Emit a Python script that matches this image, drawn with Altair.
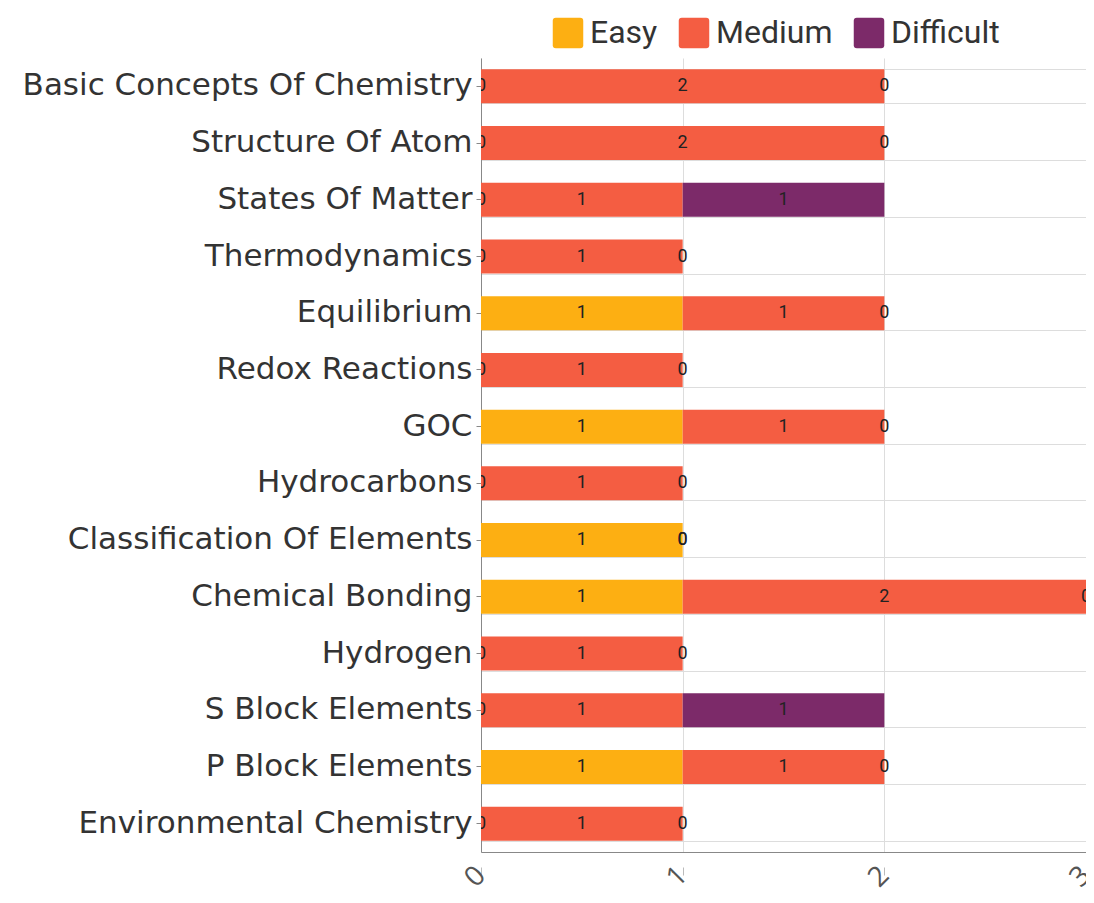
import altair as alt
import pandas as pd

topics = [
    "Basic Concepts Of Chemistry", "Structure Of Atom", "States Of Matter",
    "Thermodynamics", "Equilibrium", "Redox Reactions", "GOC", "Hydrocarbons",
    "Classification Of Elements", "Chemical Bonding", "Hydrogen",
    "S Block Elements", "P Block Elements", "Environmental Chemistry",
]
levels = ["Easy", "Medium", "Difficult"]
easy = [0, 0, 0, 0, 1, 0, 1, 0, 1, 1, 0, 0, 1, 0]
medium = [2, 2, 1, 1, 1, 1, 1, 1, 0, 2, 1, 1, 1, 1]
difficult = [0, 0, 1, 0, 0, 0, 0, 0, 0, 0, 0, 1, 0, 0]
colors = ["#FDAF12", "#F45D42", "#7C2A69"]
x_ticks = [0, 1, 2, 3]

rows = []
for i, t in enumerate(topics):
    for k, (lvl, vals) in enumerate(zip(levels, [easy, medium, difficult])):
        rows.append({"topic": t, "level": lvl, "order": k, "value": vals[i]})
df = pd.DataFrame(rows)

base = alt.Chart(df).transform_window(
    end="sum(value)", groupby=["topic"], sort=[alt.SortField("order")],
    frame=[None, 0]
).transform_calculate(
    start="datum.end - datum.value",
    mid="datum.end - datum.value / 2",
)

yscale = alt.Scale(paddingInner=0.4)
xscale = alt.Scale(domain=[0, 3], nice=False)
ysort = topics

# axis carrying the domain line and the vertical grid
x_grid_axis = alt.Axis(values=x_ticks, grid=True, gridColor="#dddddd",
                       labels=False, ticks=False, domain=True,
                       domainColor="#888888", orient="bottom", title=None)
# axis carrying the rotated labels and the small detached ticks
x_label_axis = alt.Axis(values=x_ticks, grid=False, domain=False, offset=15,
                        labelAngle=-45, labelAlign="right", labelBaseline="middle",
                        labelFontSize=28, labelFont="Open Sans",
                        labelColor="#555555", tickColor="#bbbbbb", tickSize=8,
                        labelPadding=-4, orient="bottom", title=None)

grid = base.mark_bar(opacity=0).encode(
    y=alt.Y("topic:N", sort=ysort, scale=yscale, title=None,
            axis=alt.Axis(grid=True, tickBand="extent", labels=False, ticks=False,
                          domain=False, gridColor="#dddddd", orient="left")),
    x=alt.X("start:Q", scale=xscale, title=None, axis=x_grid_axis),
    x2="end:Q",
)

bars = base.mark_bar().encode(
    y=alt.Y("topic:N", sort=ysort, scale=yscale, title=None,
            axis=alt.Axis(grid=False, labelFontSize=31, labelFont="DejaVu Sans",
                          labelColor="#333333", labelLimit=600, tickSize=5,
                          tickColor="#888888", domainColor="#888888",
                          labelPadding=4, orient="left")),
    x=alt.X("start:Q", scale=xscale, title=None, axis=x_label_axis),
    x2="end:Q",
    color=alt.Color("level:N", sort=levels,
                    scale=alt.Scale(domain=levels, range=colors),
                    legend=alt.Legend(title=None, orient="none", direction="horizontal",
                                      legendX=71, legendY=-41,
                                      symbolType="M -0.8 -1 H 0.8 Q 1 -1 1 -0.8 V 0.8 Q 1 1 0.8 1 H -0.8 Q -1 1 -1 0.8 V -0.8 Q -1 -1 -0.8 -1 Z",
                                      symbolSize=930, symbolStrokeWidth=0,
                                      labelFontSize=32, labelFont="Roboto",
                                      labelColor="#333333", labelOffset=6,
                                      columnPadding=20, padding=0)),
    order=alt.Order("order:Q"),
)

texts = base.mark_text(fontSize=18, font="Roboto", color="#222222", clip=True).encode(
    y=alt.Y("topic:N", sort=ysort, scale=yscale, axis=None),
    x=alt.X("mid:Q", scale=xscale, title=None, axis=None),
    text=alt.Text("value:Q"),
)

chart = alt.layer(grid, bars, texts).resolve_axis(
    y="independent", x="independent"
).properties(
    width=605, height=794,
    autosize=alt.AutoSizeParams(type="none"),
    padding={"left": 473, "top": 50, "right": 0, "bottom": 42},
).configure_view(stroke=None)

chart.save("out.html", embed_options={"renderer": "svg", "actions": False})
